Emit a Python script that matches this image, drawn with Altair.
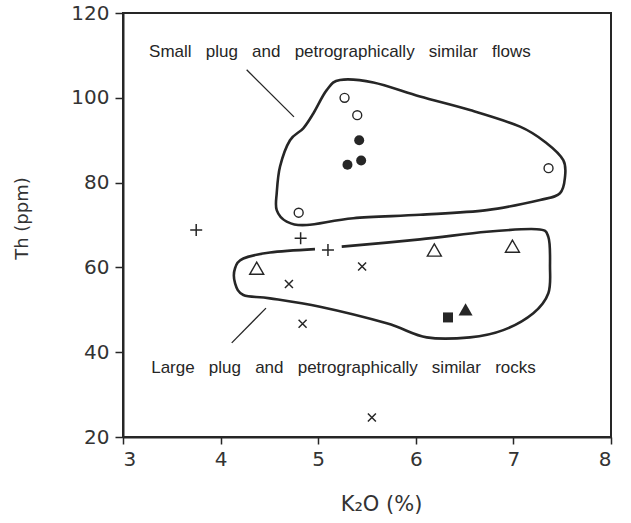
import altair as alt
import pandas as pd

# ---- data ----
open_circle_x = [5.27, 5.40, 7.36, 4.80]
open_circle_y = [100.0, 95.9, 83.4, 72.9]
filled_circle_x = [5.42, 5.44, 5.30]
filled_circle_y = [90.0, 85.2, 84.2]
plus_x = [3.75, 4.82, 5.10]
plus_y = [68.8, 66.9, 64.1]
cross_x = [5.45, 4.70, 4.84, 5.55]
cross_y = [60.2, 56.1, 46.7, 24.6]
open_tri_x = [4.37, 6.19, 6.99]
open_tri_y = [59.8, 64.1, 65.0]
filled_tri_x = [6.51]
filled_tri_y = [50.1]
filled_sq_x = [6.33]
filled_sq_y = [48.2]

# field outlines
upper_x = [5.223, 5.565, 6.043, 6.555, 7.068, 7.341, 7.511, 7.529, 7.477, 7.273, 6.727,
           6.043, 5.360, 4.882, 4.677, 4.575, 4.575, 4.609, 4.711, 4.847, 4.950, 5.087]
upper_y = [104.2, 103.6, 100.3, 97.1, 93.2, 89.3, 85.3, 81.4, 77.5, 75.9, 73.5,
           72.4, 71.6, 70.0, 70.8, 73.5, 77.5, 83.8, 90.0, 92.8, 96.3, 101.8]
lower_x = [5.241, 6.043, 6.727, 7.239, 7.358, 7.375, 7.358, 7.204, 6.896, 6.555, 6.112,
           5.702, 5.018, 4.506, 4.233, 4.148, 4.148, 4.233, 4.506, 4.967]
lower_y = [64.9, 66.6, 68.4, 69.0, 67.2, 60.2, 53.9, 49.2, 45.2, 43.5, 43.5,
           46.8, 50.7, 52.7, 53.5, 56.3, 59.8, 62.1, 63.5, 64.3]

# leader lines
leader_x = [4.267, 4.465]
leader_y = [106.6, 50.4]
leader_x2 = [4.752, 4.114]
leader_y2 = [95.5, 42.2]

# labels
SP = " \u00a0\u00a0"
label_text = [SP.join(["Small", "plug", "and", "petrographically", "similar", "flows"]),
              SP.join(["Large", "plug", "and", "petrographically", "similar", "rocks"])]
label_x = [5.223, 5.259]
label_y = [109.6, 35.2]

x_ticks = [3, 4, 5, 6, 7, 8]
y_ticks = [20, 40, 60, 80, 100, 120]

INK = "#262626"
AXFONT = "DejaVu Sans"

xs = alt.Scale(domain=[3, 8], nice=False, zero=False)
ys = alt.Scale(domain=[20, 120], nice=False, zero=False)

x_axis = alt.Axis(values=x_ticks, format="d", title="K\u2082O (%)", grid=False, tickSize=7,
                  labelPadding=5, titleX=258, titleY=73, titleAlign="center",
                  titleBaseline="alphabetic", titleFontSize=21)
y_axis = alt.Axis(values=y_ticks, format="d", title="Th (ppm)", grid=False, tickSize=8,
                  labelPadding=6, titleX=-96, titleY=205, titleAlign="center",
                  titleBaseline="alphabetic", titleAngle=-90, titleFontSize=18)


def pts(xv, yv):
    return pd.DataFrame({"x": xv, "y": yv})


def enc(ch, first=False):
    if first:
        return ch.encode(x=alt.X("x:Q", scale=xs, axis=x_axis),
                         y=alt.Y("y:Q", scale=ys, axis=y_axis))
    return ch.encode(x=alt.X("x:Q", scale=xs), y=alt.Y("y:Q", scale=ys))


up_df = pd.DataFrame({"x": upper_x, "y": upper_y, "i": range(len(upper_x))})
lo_df = pd.DataFrame({"x": lower_x, "y": lower_y, "i": range(len(lower_x))})

upper = enc(alt.Chart(up_df).mark_line(interpolate="cardinal-closed", color=INK,
                                        strokeWidth=2.6), first=True).encode(order="i:Q")
lower = enc(alt.Chart(lo_df).mark_line(interpolate="cardinal", color=INK,
                                        strokeWidth=2.6)).encode(order="i:Q")

leaders = alt.Chart(pd.DataFrame({"x": leader_x, "y": leader_y,
                                  "x2": leader_x2, "y2": leader_y2})).mark_rule(
    color=INK, strokeWidth=1.3).encode(
    x=alt.X("x:Q", scale=xs), y=alt.Y("y:Q", scale=ys), x2="x2:Q", y2="y2:Q")

labels = alt.Chart(pd.DataFrame({"x": label_x, "y": label_y, "t": label_text})).mark_text(
    align="center", baseline="alphabetic", font="Liberation Sans", fontSize=17,
    color=INK).encode(x=alt.X("x:Q", scale=xs), y=alt.Y("y:Q", scale=ys), text="t:N")

open_c = enc(alt.Chart(pts(open_circle_x, open_circle_y)).mark_point(
    shape="circle", size=80, filled=False, stroke=INK, strokeWidth=1.4, opacity=1))
fill_c = enc(alt.Chart(pts(filled_circle_x, filled_circle_y)).mark_point(
    shape="circle", size=100, filled=True, fill=INK, opacity=1))
plus = enc(alt.Chart(pts(plus_x, plus_y)).mark_point(
    shape="M-1,0H1M0,-1V1", size=144, filled=False, stroke=INK, strokeWidth=1.5, opacity=1))
cross = enc(alt.Chart(pts(cross_x, cross_y)).mark_point(
    shape="M-1,-1L1,1M-1,1L1,-1", size=64, filled=False, stroke=INK, strokeWidth=1.5, opacity=1))
open_t = enc(alt.Chart(pts(open_tri_x, open_tri_y)).mark_point(
    shape="triangle-up", size=196, filled=False, stroke=INK, strokeWidth=1.4, opacity=1))
fill_t = enc(alt.Chart(pts(filled_tri_x, filled_tri_y)).mark_point(
    shape="triangle-up", size=196, filled=True, fill=INK, opacity=1))
fill_s = enc(alt.Chart(pts(filled_sq_x, filled_sq_y)).mark_point(
    shape="square", size=100, filled=True, fill=INK, opacity=1))

chart = alt.layer(upper, lower, leaders, labels, open_c, fill_c, plus, cross,
                  open_t, fill_t, fill_s).properties(
    width=488, height=424,
    autosize=alt.AutoSizeParams(type="none"),
    padding={"left": 123, "top": 13, "right": 20, "bottom": 86},
    background="white",
).configure_view(
    stroke=INK, strokeWidth=2
).configure_axis(
    domainColor=INK, domainWidth=2, tickColor=INK, tickWidth=1.5,
    labelFont=AXFONT, labelFontWeight="normal", labelFontSize=20, labelColor="#333333",
    titleFont=AXFONT, titleFontWeight="normal", titleColor="#333333",
)

chart.save("out.html", embed_options={"renderer": "svg", "actions": False})
